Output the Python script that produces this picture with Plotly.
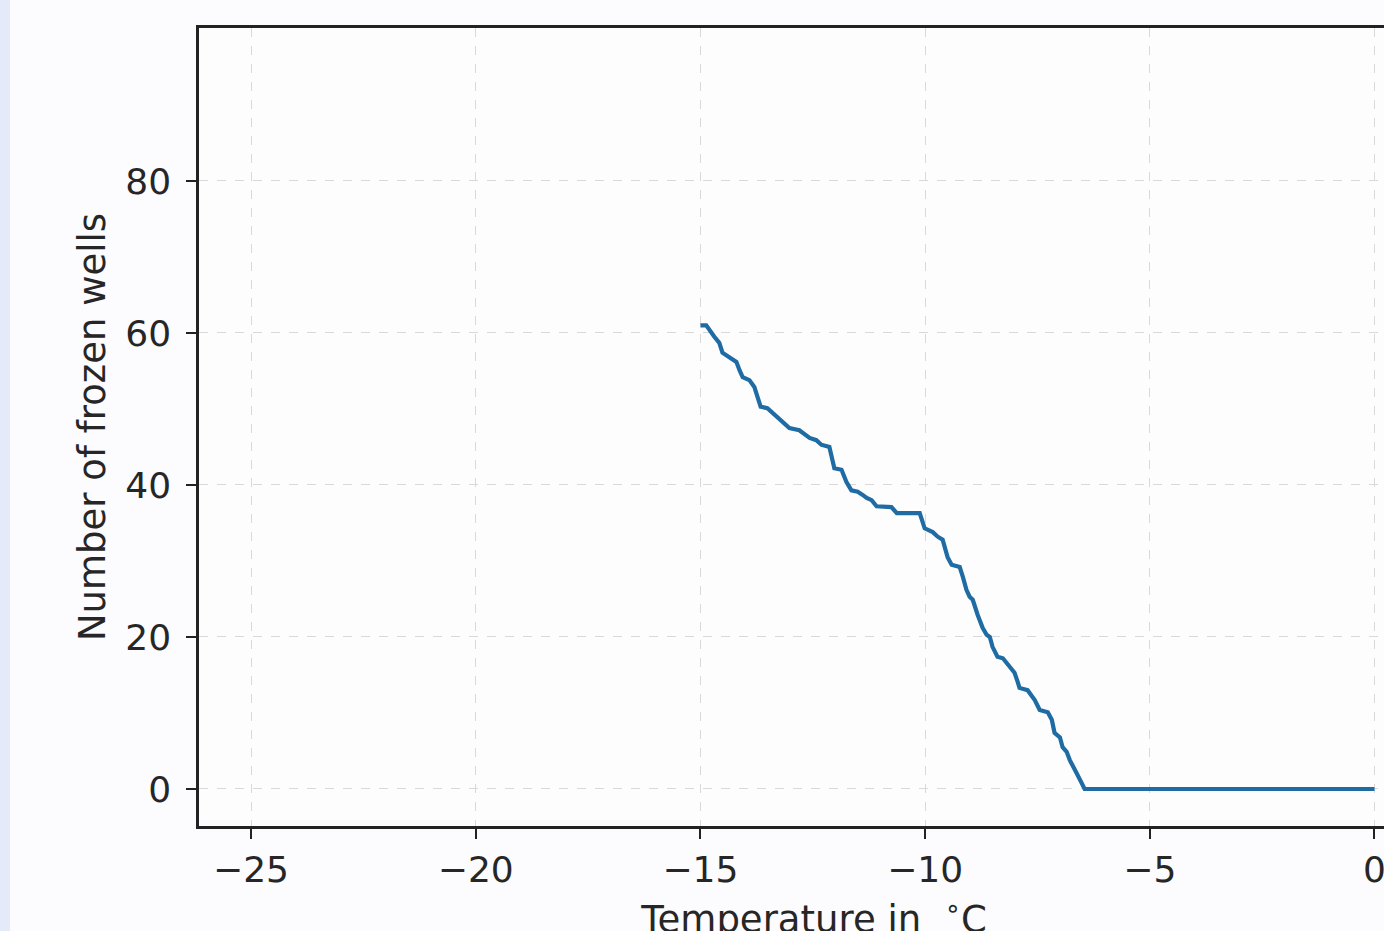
import plotly.graph_objects as go

# Temperature (°C) and number of frozen wells
temperature = [-15.0, -14.87, -14.69, -14.58, -14.51, -14.35, -14.20, -14.13, -14.06, -13.91,
               -13.80, -13.73, -13.66, -13.51, -13.40, -13.29, -13.17, -13.02, -12.80, -12.68,
               -12.57, -12.42, -12.31, -12.13, -12.06, -12.02, -11.86, -11.75, -11.64, -11.50,
               -11.39, -11.30, -11.19, -11.08, -10.75, -10.63, -10.12, -10.01, -9.83, -9.72,
               -9.61, -9.50, -9.41, -9.23, -9.16, -9.08, -9.01, -8.94, -8.83, -8.72,
               -8.63, -8.56, -8.50, -8.39, -8.27, -8.12, -8.01, -7.94, -7.90, -7.72,
               -7.56, -7.45, -7.27, -7.18, -7.12, -7.00, -6.94, -6.85, -6.78, -6.63,
               -6.51, -6.45, 0.0]
frozen_wells = [61, 61, 59.5, 58.7, 57.4, 56.8, 56.2, 55.1, 54.2, 53.8,
                52.9, 51.6, 50.3, 50.1, 49.5, 48.9, 48.3, 47.5, 47.2, 46.6,
                46.2, 45.9, 45.3, 45.0, 43.3, 42.2, 42.0, 40.4, 39.3, 39.1,
                38.7, 38.3, 38.0, 37.2, 37.1, 36.3, 36.3, 34.3, 33.8, 33.2,
                32.8, 30.5, 29.5, 29.2, 27.9, 26.2, 25.3, 24.9, 22.9, 21.2,
                20.3, 20.0, 18.7, 17.4, 17.2, 16.1, 15.3, 14.1, 13.3, 13.0,
                11.7, 10.4, 10.1, 9.1, 7.4, 6.8, 5.5, 4.9, 3.8, 2.1,
                0.8, 0, 0]

x_ticks = [-25, -20, -15, -10, -5, 0]
x_tick_labels = ["\u221225", "\u221220", "\u221215", "\u221210", "\u22125", "0"]
y_ticks = [0, 20, 40, 60, 80]
y_tick_labels = ["0", "20", "40", "60", "80"]

FONT = "DejaVu Sans"
TXT = "#262626"

# The reference is a crop: the axes box continues past the right edge of the view.
W, H = 1440, 960
ML, MR, MT, MB = 199, 11, 28, 134
PW, PH = W - ML - MR, H - MT - MB

fig = go.Figure()
fig.add_trace(go.Scatter(
    x=temperature, y=frozen_wells, mode="lines",
    line=dict(color="#1f6ca4", width=4.2),
    showlegend=False, hoverinfo="skip",
))

grid = dict(showgrid=True, gridcolor="#d9d9d9", gridwidth=1.4, griddash="dash")

fig.update_layout(
    width=W, height=H,
    margin=dict(l=ML, r=MR, t=MT, b=MB, autoexpand=False),
    paper_bgcolor="#fcfbfd",
    plot_bgcolor="#fefdfe",
    font=dict(family=FONT, size=36, color=TXT),
    xaxis=dict(
        range=[-26.158, 1.213], tickmode="array", tickvals=x_ticks, ticktext=x_tick_labels,
        ticks="outside", ticklen=10, tickwidth=2, tickcolor="#222",
        showline=True, linecolor="#222", linewidth=2.5, mirror=True,
        zeroline=False, automargin=False, ticklabelstandoff=0,
        ticklabeloverflow="allow",
        tickfont=dict(family=FONT, size=36, color=TXT),
        title=dict(text="Temperature in\u00a0\u00a0<sup>\u2218</sup>C",
                   font=dict(family=FONT, size=37, color=TXT), standoff=18),
        **grid,
    ),
    yaxis=dict(
        range=[-4.87, 100.13], tickmode="array", tickvals=y_ticks, ticktext=y_tick_labels,
        ticks="outside", ticklen=10, tickwidth=2, tickcolor="#222",
        showline=True, linecolor="#222", linewidth=2.5, mirror=True,
        zeroline=False, automargin=False, ticklabelstandoff=8,
        tickfont=dict(family=FONT, size=36, color=TXT),
        title=dict(text="Number of frozen wells",
                   font=dict(family=FONT, size=37, color=TXT), standoff=9),
        **grid,
    ),
    shapes=[dict(type="rect", xref="paper", yref="paper",
                 x0=-ML / PW, x1=-(ML - 10) / PW, y0=-MB / PH, y1=1 + MT / PH,
                 fillcolor="#e4eaf8", line=dict(width=0), layer="below")],
)

fig.write_html("out.html", config={"displayModeBar": False},
               post_script="document.body.style.margin='0';document.body.style.overflow='hidden';")
